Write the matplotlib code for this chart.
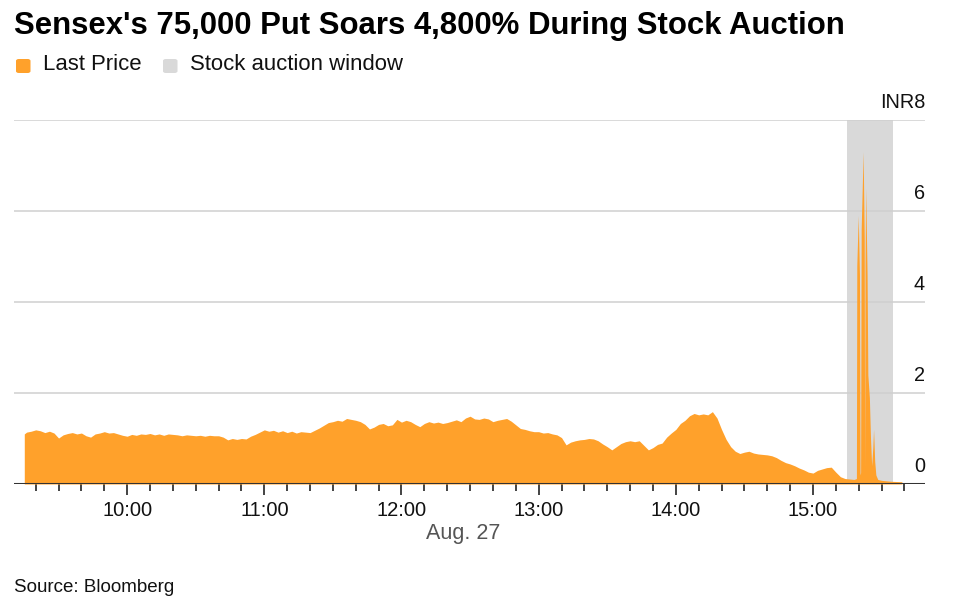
import matplotlib
matplotlib.use("Agg")
import matplotlib.pyplot as plt
import matplotlib.dates as mdates
import matplotlib.transforms as mtransforms
from matplotlib.patches import FancyBboxPatch
import pandas as pd

plt.rcParams['font.family'] = ['Liberation Sans', 'DejaVu Sans']

DATE = "2024-08-27"

times = [
    "09:15", "09:16", "09:18", "09:20", "09:22", "09:24", "09:26", "09:28", "09:30", "09:32",
    "09:34", "09:36", "09:38", "09:40", "09:42", "09:44", "09:46", "09:48", "09:50", "09:52",
    "09:54", "09:56", "09:58", "10:00", "10:02", "10:04", "10:06", "10:08", "10:10", "10:12",
    "10:14", "10:16", "10:18", "10:20", "10:22", "10:24", "10:26", "10:28", "10:30", "10:32",
    "10:34", "10:36", "10:38", "10:40", "10:42", "10:44", "10:46", "10:48", "10:50", "10:52",
    "10:54", "10:56", "10:58", "11:00", "11:02", "11:04", "11:06", "11:08", "11:10", "11:12",
    "11:14", "11:16", "11:18", "11:20", "11:22", "11:24", "11:26", "11:28", "11:30", "11:32",
    "11:34", "11:36", "11:38", "11:40", "11:42", "11:44", "11:46", "11:48", "11:50", "11:52",
    "11:54", "11:56", "11:58", "12:00", "12:02", "12:04", "12:06", "12:08", "12:10", "12:12",
    "12:14", "12:16", "12:18", "12:20", "12:22", "12:24", "12:26", "12:28", "12:30", "12:32",
    "12:34", "12:36", "12:38", "12:40", "12:42", "12:44", "12:46", "12:48", "12:50", "12:52",
    "12:54", "12:56", "12:58", "13:00", "13:02", "13:04", "13:06", "13:08", "13:10", "13:12",
    "13:14", "13:16", "13:18", "13:20", "13:22", "13:24", "13:26", "13:28", "13:30", "13:32",
    "13:34", "13:36", "13:38", "13:40", "13:42", "13:44", "13:46", "13:48", "13:50", "13:52",
    "13:54", "13:56", "13:58", "14:00", "14:02", "14:04", "14:06", "14:08", "14:10", "14:12",
    "14:14", "14:16", "14:18", "14:20", "14:22", "14:24", "14:26", "14:28", "14:30", "14:32",
    "14:34", "14:36", "14:38", "14:40", "14:42", "14:44", "14:46", "14:48", "14:50", "14:52",
    "14:54", "14:56", "14:58", "15:00", "15:02", "15:04", "15:06", "15:08", "15:10", "15:12",
    "15:14", "15:16", "15:18",
    "15:19:00", "15:19:10", "15:19:48", "15:20:20", "15:20:36", "15:20:50", "15:21:05",
    "15:21:57", "15:22:25", "15:22:36", "15:22:46", "15:23:03", "15:23:40", "15:24:00",
    "15:24:40", "15:25:10", "15:25:40", "15:26:10", "15:26:30", "15:27:00", "15:27:30",
    "15:28:20", "15:30:00", "15:34:00", "15:38:54",
]

prices = [
    1.10, 1.14, 1.16, 1.19, 1.17, 1.13, 1.16, 1.12, 1.01, 1.08,
    1.11, 1.13, 1.10, 1.12, 1.06, 1.03, 1.10, 1.12, 1.15, 1.12,
    1.13, 1.10, 1.07, 1.05, 1.09, 1.07, 1.10, 1.09, 1.11, 1.08,
    1.10, 1.07, 1.10, 1.09, 1.08, 1.06, 1.08, 1.07, 1.06, 1.07,
    1.05, 1.07, 1.06, 1.06, 1.03, 0.97, 1.00, 0.98, 1.00, 0.99,
    1.05, 1.09, 1.14, 1.19, 1.16, 1.18, 1.14, 1.17, 1.13, 1.16,
    1.12, 1.15, 1.14, 1.13, 1.18, 1.23, 1.29, 1.35, 1.37, 1.40,
    1.38, 1.44, 1.42, 1.40, 1.37, 1.31, 1.21, 1.25, 1.31, 1.33,
    1.28, 1.30, 1.42, 1.36, 1.40, 1.37, 1.31, 1.26, 1.33, 1.37,
    1.34, 1.36, 1.33, 1.35, 1.38, 1.41, 1.37, 1.45, 1.49, 1.43,
    1.42, 1.45, 1.43, 1.37, 1.40, 1.42, 1.44, 1.38, 1.30, 1.22,
    1.20, 1.17, 1.15, 1.15, 1.12, 1.13, 1.10, 1.08, 1.02, 0.86,
    0.92, 0.95, 0.97, 0.98, 1.00, 0.99, 0.95, 0.88, 0.82, 0.75,
    0.82, 0.89, 0.93, 0.95, 0.93, 0.95, 0.85, 0.75, 0.80, 0.87,
    0.90, 1.03, 1.12, 1.20, 1.33, 1.40, 1.50, 1.55, 1.52, 1.54,
    1.52, 1.59, 1.45, 1.20, 0.98, 0.82, 0.72, 0.67, 0.70, 0.72,
    0.68, 0.66, 0.65, 0.64, 0.62, 0.58, 0.52, 0.47, 0.44, 0.40,
    0.35, 0.31, 0.26, 0.24, 0.30, 0.33, 0.36, 0.37, 0.26, 0.16,
    0.12, 0.11, 0.10,
    0.12, 4.80, 5.90, 4.60, 0.20, 0.25, 5.60,
    7.30, 5.40, 0.30, 4.80, 6.50, 4.60, 2.40,
    1.90, 1.00, 0.40, 0.80, 1.20, 0.50, 0.20,
    0.10, 0.08, 0.06, 0.05,
]

auction_window = ["15:15", "15:35"]
x_range = ["09:10:30", "15:49"]
y_ticks = [0, 2, 4, 6, 8]
y_tick_labels = ["0", "2", "4", "6", "INR8"]

title = "Sensex's 75,000 Put Soars 4,800% During Stock Auction"
legend_labels = ["Last Price", "Stock auction window"]
date_label = "Aug. 27"
source = "Source: Bloomberg"

ORANGE = "#FFA12B"
GREY = "#D9D9D9"

def ts(s):
    return pd.Timestamp(f"{DATE} {s}")

t = pd.to_datetime([f"{DATE} {s}" for s in times], format="mixed")

W, H = 960, 605
fig = plt.figure(figsize=(W / 100, H / 100), dpi=100)
ax = fig.add_axes([14 / W, 1 - 484 / H, (925 - 14) / W, (484 - 120) / H])

ax.axvspan(ts(auction_window[0]), ts(auction_window[1]), color=GREY, lw=0, zorder=1)
ax.fill_between(t, 0, prices, color=ORANGE, lw=0, zorder=3)

for v in y_ticks[1:]:
    ax.axhline(v, color="#cfcfcf", lw=1.1, zorder=2)
ax.axhline(0, color="#333333", lw=2.2, zorder=4)

ax.set_ylim(0, 8)
ax.set_xlim(ts(x_range[0]), ts(x_range[1]))
for s in ax.spines.values():
    s.set_visible(False)
ax.set_yticks([])

ax.xaxis.set_major_locator(mdates.HourLocator())
ax.xaxis.set_major_formatter(mdates.DateFormatter("%H:%M"))
ax.xaxis.set_minor_locator(mdates.MinuteLocator(byminute=range(0, 60, 10)))
ax.tick_params(axis="x", which="major", length=8, width=1.1, color="#111111",
               labelsize=14.5, labelcolor="#111111", pad=4)
ax.tick_params(axis="x", which="minor", length=5, width=1.1, color="#111111")

off = mtransforms.offset_copy(ax.get_yaxis_transform(), fig=fig, x=0, y=8, units="dots")
for v, lab in zip(y_ticks, y_tick_labels):
    ax.text(1.0, v, lab, transform=off, ha="right", va="bottom",
            fontsize=14.3, color="#111111", zorder=5)

fig.text(14 / W, 1 - 26 / H, title, fontsize=22.4, fontweight="bold",
         ha="left", va="center", color="#000000")

for xpx, col, lab, txx in [(16, ORANGE, legend_labels[0], 43), (163, GREY, legend_labels[1], 190)]:
    p = FancyBboxPatch((xpx / W, 1 - 73 / H), 14.5 / W, 14 / H,
                       boxstyle="round,pad=0,rounding_size=0.003",
                       transform=fig.transFigure, facecolor=col, edgecolor="none")
    fig.patches.append(p)
    fig.text(txx / W, 1 - 65 / H, lab, fontsize=15.9, ha="left", va="center", color="#111111")

fig.text(463 / W, 1 - 533 / H, date_label, fontsize=15.5, ha="center", va="center", color="#555555")
fig.text(14 / W, 1 - 587 / H, source, fontsize=13.5, ha="left", va="center", color="#111111")

fig.savefig("out.png", dpi=100)
